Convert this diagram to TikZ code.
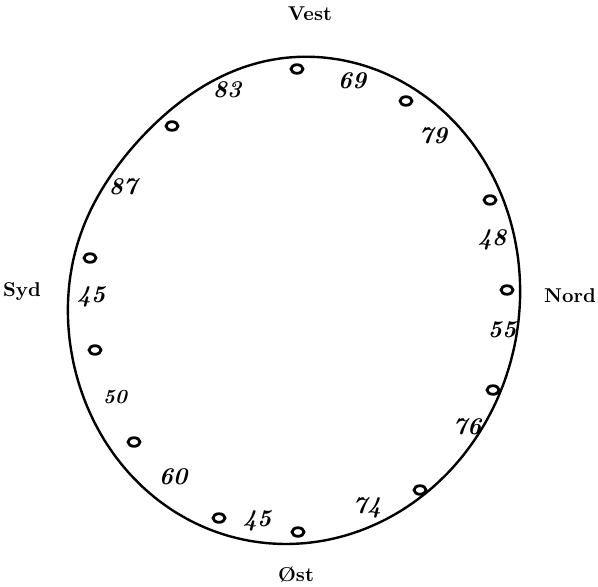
\documentclass[tikz,border=0pt]{standalone}
\usepackage{fontspec}
\usepackage{tikz}
\usetikzlibrary{shapes.geometric}

\tikzset{
  compass/.style={font=\bfseries},
  reading/.style={font=\large\bfseries\itshape, inner sep=1pt},
  ringmark/.style={draw, ellipse, line width=1.4pt, minimum width=6pt, minimum height=4.3pt, inner sep=0pt},
  ring/.style={line width=1.2pt}
}

\begin{document}
\begin{tikzpicture}[x=0.5pt,y=-0.5pt]
  \useasboundingbox (0,0) rectangle (598,587);

  % the hand-drawn ring (an oval, a little flattened at the upper left)
  \draw[ring] plot[smooth cycle, domain=0:355, samples=72, variable=\t]
    ({294+226*cos(\t)+8*sin(\t)}, {300-244*sin(\t)+12*exp(-((\t-140)/30)^2)});

  % compass points
  \node[compass] (vest) at (310,14) {Vest};
  \node[compass] (nord) at (570,296) {Nord};
  \node[compass] (ost)  at (296,575) {Øst};
  \node[compass] (syd)  at (22,292) {Syd};

  % marks on the ring
  \node[ringmark] (m1)  at (297,69) {};
  \node[ringmark] (m2)  at (406,101) {};
  \node[ringmark] (m3)  at (490,200) {};
  \node[ringmark] (m4)  at (507,290) {};
  \node[ringmark] (m5)  at (493,390) {};
  \node[ringmark] (m6)  at (420,490) {};
  \node[ringmark] (m7)  at (298,532) {};
  \node[ringmark] (m8)  at (219,518) {};
  \node[ringmark] (m9)  at (134,442) {};
  \node[ringmark] (m10) at (95,350) {};
  \node[ringmark] (m11) at (90,258) {};
  \node[ringmark] (m12) at (172,126) {};

  % readings between the marks
  \node[reading] (r1)  at (352,81) {69};
  \node[reading] (r2)  at (433,136) {79};
  \node[reading] (r3)  at (492,240) {48};
  \node[reading] (r4)  at (502,330) {55};
  \node[reading] (r5)  at (467,427) {76};
  \node[reading] (r6)  at (367,508) {74};
  \node[reading] (r7)  at (257,521) {45};
  \node[reading] (r8)  at (173,477) {60};
  \node[reading, font=\normalsize\bfseries\itshape] (r9) at (115,397) {50};
  \node[reading] (r10) at (91,297) {45};
  \node[reading] (r11) at (123,187) {87};
  \node[reading] (r12) at (227,90) {83};

\end{tikzpicture}
\end{document}
